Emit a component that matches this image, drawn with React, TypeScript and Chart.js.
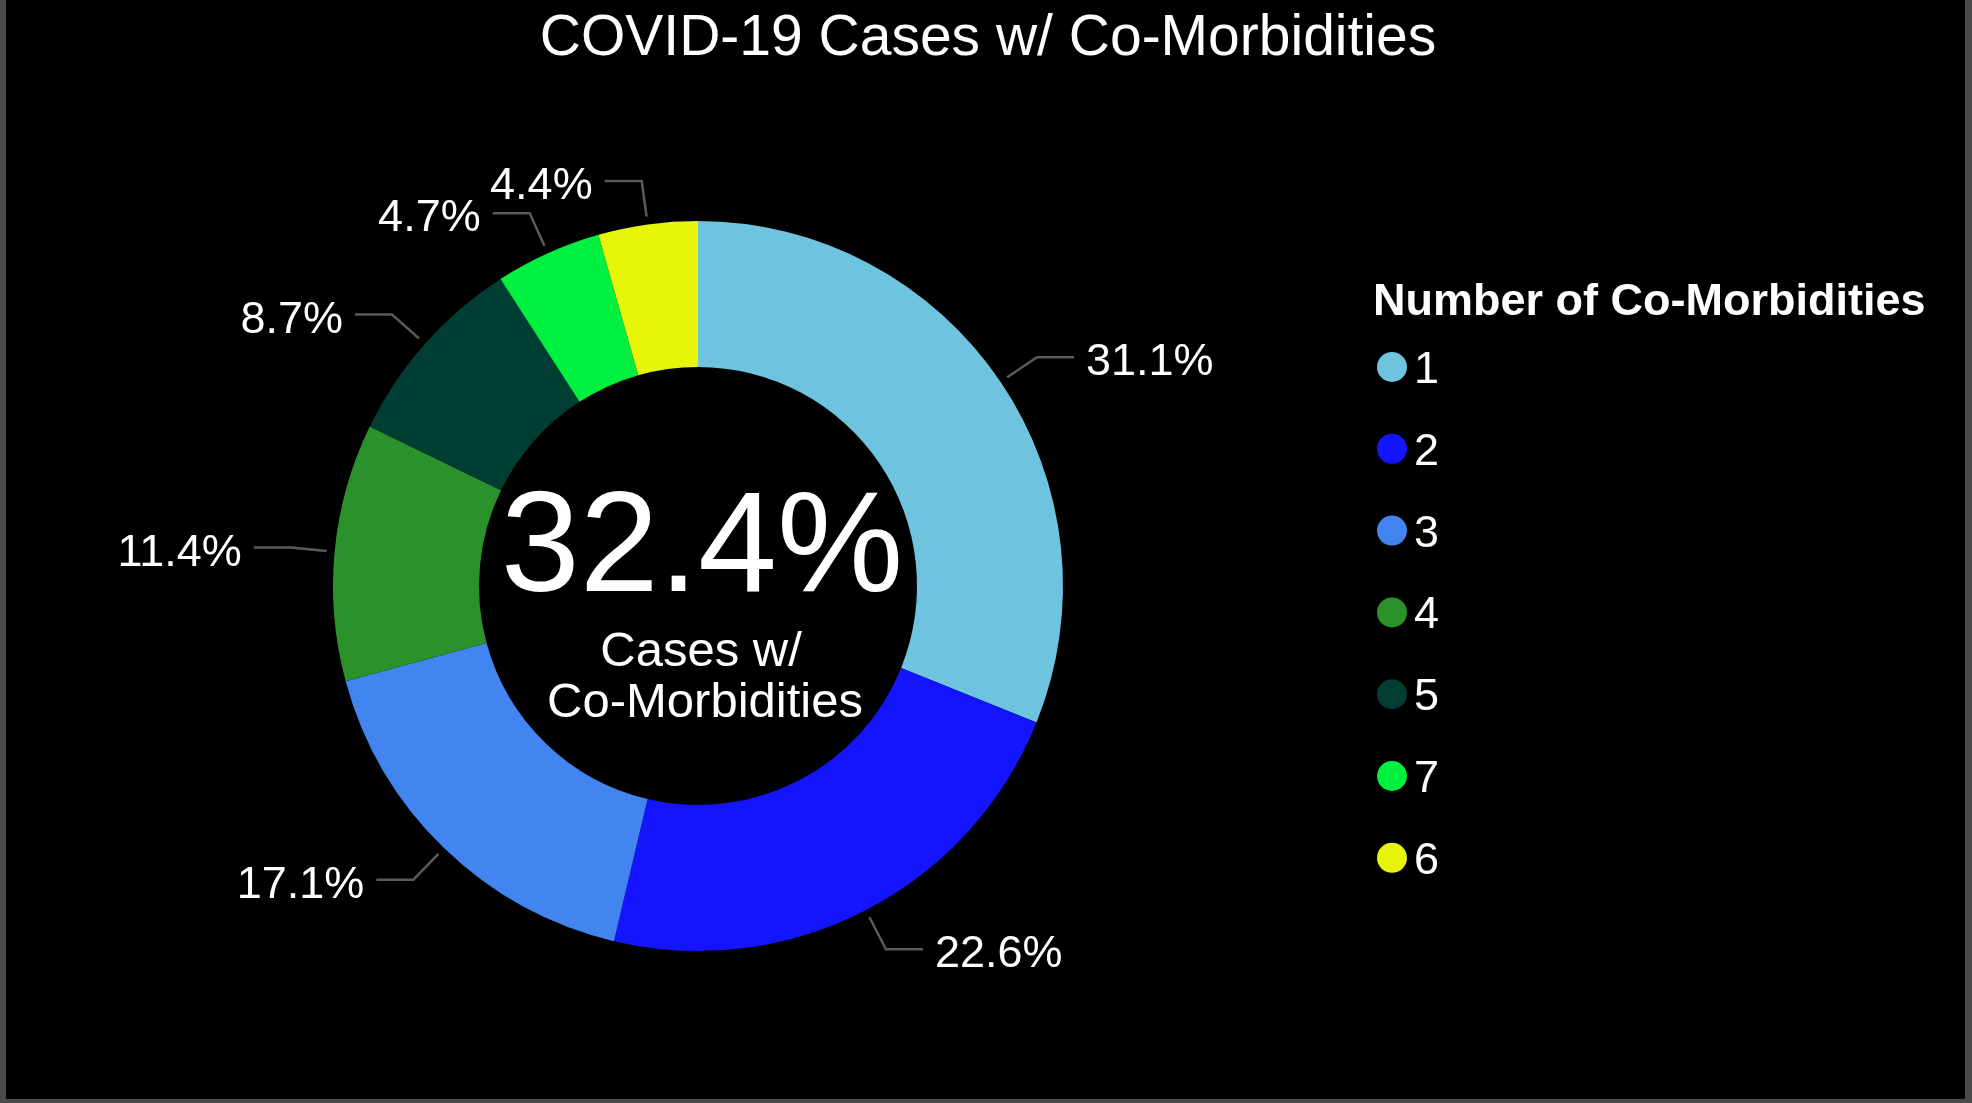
import { useEffect, useRef } from "react";
import { Chart, registerables } from "chart.js";

Chart.register(...registerables);

const CATEGORIES = ["1", "2", "3", "4", "5", "7", "6"];
const SHARES = [31.1, 22.6, 17.1, 11.4, 8.7, 4.7, 4.4];
const COLORS = ["#6EC3DF", "#1414FF", "#4285F0", "#2B912B", "#003D33", "#00F040", "#E6F50A"];
const TITLE = "COVID-19 Cases w/ Co-Morbidities";
const LEGEND_TITLE = "Number of Co-Morbidities";
const CENTER_VALUE = "32.4%";
const CENTER_LINES = ["Cases w/", "Co-Morbidities"];

const FONT = '"Liberation Sans", Arial, sans-serif';
const W = 1972;
const H = 1103;

const decorPlugin = {
  id: "decor",
  beforeDraw(chart: any) {
    const ctx = chart.ctx;
    ctx.save();
    ctx.fillStyle = "#000";
    ctx.fillRect(0, 0, W, H);
    ctx.fillStyle = "#4a4a4a";
    ctx.fillRect(0, 0, 6, H);
    ctx.fillRect(W - 7, 0, 7, H);
    ctx.fillRect(0, H - 4, W, 4);
    ctx.restore();
  },
  afterDatasetsDraw(chart: any) {
    const ctx = chart.ctx;
    const meta = chart.getDatasetMeta(0);
    const ds = chart.data.datasets[0];
    ctx.save();

    // leader lines + labels
    meta.data.forEach((el: any, i: number) => {
      const p = el.getProps(["x", "y", "startAngle", "endAngle", "outerRadius"], true);
      const a = (p.startAngle + p.endAngle) / 2;
      const r1 = p.outerRadius + 8;
      const r2 = p.outerRadius + 44;
      const x1 = p.x + Math.cos(a) * r1;
      const y1 = p.y + Math.sin(a) * r1;
      const x2 = p.x + Math.cos(a) * r2;
      const y2 = p.y + Math.sin(a) * r2;
      const dir = Math.cos(a) >= 0 ? 1 : -1;
      const x3 = x2 + dir * 37;
      ctx.strokeStyle = "#5a5a5a";
      ctx.lineWidth = 2.5;
      ctx.beginPath();
      ctx.moveTo(x1, y1);
      ctx.lineTo(x2, y2);
      ctx.lineTo(x3, y2);
      ctx.stroke();
      ctx.fillStyle = "#fff";
      ctx.font = `45px ${FONT}`;
      ctx.textAlign = dir > 0 ? "left" : "right";
      ctx.textBaseline = "alphabetic";
      ctx.fillText(ds.data[i].toFixed(1) + "%", x3 + dir * 12, y2 + 18);
    });

    // center text
    const c = meta.data[0].getProps(["x", "y"], true);
    ctx.fillStyle = "#fff";
    ctx.textAlign = "center";
    ctx.textBaseline = "alphabetic";
    ctx.font = `142px ${FONT}`;
    ctx.fillText(CENTER_VALUE, c.x + 4, 591);
    ctx.font = `49px ${FONT}`;
    ctx.fillText(CENTER_LINES[0], c.x + 3, 666);
    ctx.fillText(CENTER_LINES[1], c.x + 7, 717);

    // title
    ctx.font = `57px ${FONT}`;
    ctx.fillText(TITLE, W / 2 + 2, 55);

    // legend
    ctx.textAlign = "left";
    ctx.font = `bold 45px ${FONT}`;
    ctx.fillText(LEGEND_TITLE, 1373, 315);
    ctx.font = `45px ${FONT}`;
    (chart.data.labels as string[]).forEach((lab, i) => {
      const cy = 367 + i * 81.8;
      ctx.fillStyle = ds.backgroundColor[i];
      ctx.beginPath();
      ctx.arc(1392, cy, 15, 0, Math.PI * 2);
      ctx.fill();
      ctx.fillStyle = "#fff";
      ctx.fillText(lab, 1414, cy + 16);
    });

    ctx.restore();
  },
};

export default function App() {
  const ref = useRef<HTMLCanvasElement | null>(null);

  useEffect(() => {
    document.body.style.margin = "0";
    document.body.style.background = "#000";
    const canvas = ref.current;
    if (!canvas) return;
    const chart = new Chart(canvas, {
      type: "doughnut",
      data: {
        labels: CATEGORIES,
        datasets: [
          {
            data: SHARES,
            backgroundColor: COLORS,
            borderWidth: 0,
          },
        ],
      },
      options: {
        animation: false,
        responsive: false,
        devicePixelRatio: 1,
        cutout: "60%",
        layout: {
          padding: { left: 333, right: 909, top: 221, bottom: 152 },
        },
        plugins: {
          legend: { display: false },
          title: { display: false },
          tooltip: { enabled: false },
        },
      },
      plugins: [decorPlugin],
    });
    return () => chart.destroy();
  }, []);

  return (
    <div style={{ width: W, height: H, background: "#000" }}>
      <canvas ref={ref} width={W} height={H} style={{ display: "block", width: W, height: H }} />
    </div>
  );
}
